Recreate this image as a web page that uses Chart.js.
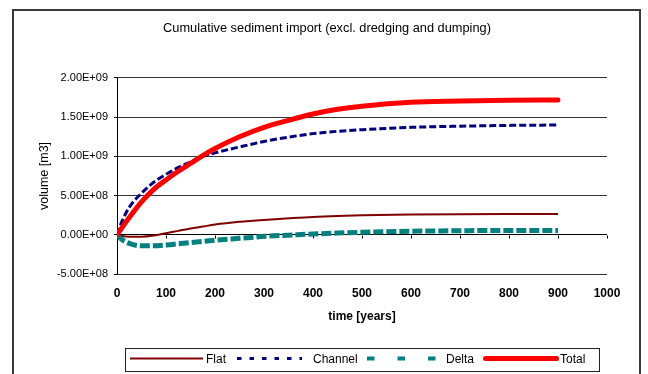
<!DOCTYPE html>
<html>
<head>
<meta charset="utf-8">
<script src="https://cdn.jsdelivr.net/npm/chart.js@4/dist/chart.umd.min.js"></script>
<style>
  html, body { margin: 0; padding: 0; background: #fff; }
  canvas { display: block; }
</style>
</head>
<body>
<canvas id="chart" width="648" height="374"></canvas>
<script>
// Time axis (years) and cumulative volumes (m3) per area
const years   = [0, 10, 25, 50, 75, 100, 125, 150, 175, 200, 250, 300, 350, 400, 450, 500, 600, 700, 800, 900];
const flat    = [0, -0.015e9, -0.025e9, -0.025e9, -0.01e9, 0.02e9, 0.05e9, 0.08e9, 0.105e9, 0.13e9, 0.165e9, 0.19e9, 0.21e9, 0.228e9, 0.24e9, 0.248e9, 0.258e9, 0.263e9, 0.265e9, 0.265e9];
const channel = [0, 0.17e9, 0.35e9, 0.53e9, 0.67e9, 0.77e9, 0.86e9, 0.93e9, 1.00e9, 1.045e9, 1.12e9, 1.19e9, 1.245e9, 1.29e9, 1.32e9, 1.34e9, 1.37e9, 1.385e9, 1.395e9, 1.40e9];
const delta   = [0, -0.06e9, -0.11e9, -0.14e9, -0.14e9, -0.13e9, -0.115e9, -0.10e9, -0.085e9, -0.07e9, -0.045e9, -0.02e9, -0.005e9, 0.01e9, 0.022e9, 0.032e9, 0.045e9, 0.052e9, 0.055e9, 0.055e9];
const total   = [0, 0.09e9, 0.22e9, 0.42e9, 0.58e9, 0.70e9, 0.81e9, 0.91e9, 1.01e9, 1.10e9, 1.25e9, 1.37e9, 1.46e9, 1.54e9, 1.60e9, 1.64e9, 1.69e9, 1.705e9, 1.715e9, 1.72e9];

const seriesNames = ['Flat', 'Channel', 'Delta', 'Total'];
const xTickLabels = ['0', '100', '200', '300', '400', '500', '600', '700', '800', '900', '1000'];
const yTickLabels = ['-5.00E+08', '0.00E+00', '5.00E+08', '1.00E+09', '1.50E+09', '2.00E+09'];

const FONT = "'Liberation Sans', Arial, sans-serif";
Chart.defaults.font.family = FONT;
Chart.defaults.color = '#000';

const toPoints = values => years.map((t, i) => ({ x: t, y: values[i] }));

// Outer chart frame
const framePlugin = {
  id: 'frame',
  beforeDraw(chart) {
    const ctx = chart.ctx;
    ctx.save();
    ctx.fillStyle = '#fff';
    ctx.fillRect(0, 0, chart.width, chart.height);
    ctx.strokeStyle = '#3a3a3a';
    ctx.lineWidth = 2;
    ctx.strokeRect(13, 10, 627, 420);
    ctx.restore();
  }
};

// Small tick marks hanging from the zero line at each x tick
const zeroTicksPlugin = {
  id: 'zeroTicks',
  beforeDatasetsDraw(chart) {
    const { x, y } = chart.scales;
    const ctx = chart.ctx;
    const y0 = Math.round(y.getPixelForValue(0)) + 0.5;
    ctx.save();
    ctx.strokeStyle = '#000';
    ctx.lineWidth = 1;
    ctx.beginPath();
    x.ticks.forEach(t => {
      const px = Math.round(x.getPixelForValue(t.value)) + 0.5;
      ctx.moveTo(px, y0);
      ctx.lineTo(px, y0 + 3);
    });
    ctx.stroke();
    ctx.restore();
  }
};

// Boxed legend row below the axis title
const boxLegendPlugin = {
  id: 'boxLegend',
  afterDraw(chart) {
    const ctx = chart.ctx;
    const slots = [
      { from: 130, to: 203, text: 206, dash: [], width: 2, cap: 'butt' },
      { from: 237, to: 302, text: 313, dash: [4.5, 8], width: 3, cap: 'butt' },
      { from: 367, to: 437, text: 446, dash: [7.5, 23], width: 4, cap: 'butt' },
      { from: 485.5, to: 556.5, text: 560, dash: [], width: 5, cap: 'round' }
    ];
    ctx.save();
    ctx.strokeStyle = '#222';
    ctx.lineWidth = 1;
    ctx.strokeRect(125.5, 348.5, 474, 23);
    chart.data.datasets.forEach((ds, i) => {
      const s = slots[i];
      ctx.beginPath();
      ctx.setLineDash(s.dash);
      ctx.lineCap = s.cap;
      ctx.lineWidth = s.width;
      ctx.strokeStyle = ds.borderColor;
      ctx.moveTo(s.from, 358.5);
      ctx.lineTo(s.to, 358.5);
      ctx.stroke();
      ctx.setLineDash([]);
      ctx.fillStyle = '#000';
      ctx.font = '12px ' + FONT;
      ctx.textBaseline = 'middle';
      ctx.textAlign = 'left';
      ctx.fillText(ds.label, s.text, 360);
    });
    ctx.restore();
  }
};

new Chart(document.getElementById('chart'), {
  type: 'line',
  data: {
    datasets: [
      { label: seriesNames[0], data: toPoints(flat), borderColor: '#800000', borderWidth: 2, order: 4 },
      { label: seriesNames[1], data: toPoints(channel), borderColor: '#000080', borderWidth: 3, borderDash: [7, 3], order: 3 },
      { label: seriesNames[2], data: toPoints(delta), borderColor: '#008080', borderWidth: 5, borderDash: [10, 3], order: 2 },
      { label: seriesNames[3], data: toPoints(total), borderColor: '#ff0000', borderWidth: 5, borderCapStyle: 'round', order: 1 }
    ]
  },
  options: {
    responsive: false,
    animation: false,
    devicePixelRatio: 1,
    layout: { padding: { left: 47, right: 41, top: 0, bottom: 49.8 } },
    elements: {
      point: { radius: 0, hoverRadius: 0 },
      line: { cubicInterpolationMode: 'monotone', fill: false }
    },
    plugins: {
      legend: { display: false },
      tooltip: { enabled: false },
      title: {
        display: true,
        text: 'Cumulative sediment import (excl. dredging and dumping)',
        color: '#000',
        font: { size: 12.8, weight: 'normal' },
        padding: { top: 21, bottom: 41.6 }
      }
    },
    scales: {
      x: {
        type: 'linear',
        min: 0,
        max: 1000,
        grid: { display: false, drawTicks: false },
        border: { display: false },
        ticks: {
          stepSize: 100, padding: 12, color: '#000', font: { size: 12, weight: 'bold' },
          maxRotation: 0, autoSkip: false, callback: (v, i) => xTickLabels[i]
        },
        title: { display: true, text: 'time [years]', color: '#000', font: { size: 12, weight: 'bold' }, padding: { top: 0, bottom: 0 } },
        afterFit(scale) { scale.height = 50.2; }
      },
      y: {
        min: -5e8,
        max: 2e9,
        ticks: { stepSize: 5e8, padding: 6, color: '#000', font: { size: 11 }, callback: (v, i) => yTickLabels[i] },
        grid: { color: c => (c.tick && c.tick.value === 0 ? '#000' : '#333'), lineWidth: 1, tickLength: 3, tickColor: '#000' },
        border: { display: true, color: '#000', width: 1 },
        title: { display: true, text: 'volume [m3]', color: '#000', font: { size: 12.5 }, padding: { top: -9.5, bottom: 0 } },
        afterFit(scale) { scale.width = 70; }
      }
    }
  },
  plugins: [framePlugin, zeroTicksPlugin, boxLegendPlugin]
});
</script>
</body>
</html>
